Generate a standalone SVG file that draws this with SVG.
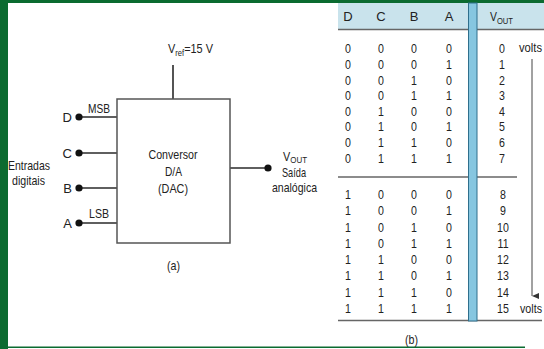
<svg xmlns="http://www.w3.org/2000/svg" width="544" height="349" viewBox="0 0 544 349">
  <style>
    text { font-family: "Liberation Sans", Arial, sans-serif; fill: #222; }
    .t13 { font-size: 13px; }
    .t12 { font-size: 12.5px; }
    .mid { text-anchor: middle; }
    .end { text-anchor: end; }
    .wire { stroke: #2a2a2a; stroke-width: 1.6; fill: none; }
    .box { stroke: #555; stroke-width: 1.5; fill: #fff; }
    .dot { fill: #111; }
    .rule { stroke: #666; stroke-width: 1.4; }
  </style>
  <defs>
    <marker id="arrow" markerWidth="6" markerHeight="8" refX="3" refY="7" orient="auto" markerUnits="userSpaceOnUse">
      <path d="M0,0 L6,0 L3,7 Z" fill="#333"/>
    </marker>
  </defs>

  <!-- page frame -->
  <rect x="0" y="0" width="544" height="349" fill="#fff"/>
  <rect x="0" y="0" width="544" height="3" fill="#0b6b30"/>
  <rect x="0" y="0" width="8" height="349" fill="#0b6b30"/>
  <rect x="0" y="346.5" width="525" height="1.5" fill="#0b6b30"/>

  <!-- (a) DAC block diagram -->
  <g id="connectors">
    <line class="wire" x1="173" y1="65" x2="173" y2="99"/>
    <line class="wire" x1="79" y1="117" x2="117" y2="117"/>
    <line class="wire" x1="79" y1="153" x2="117" y2="153"/>
    <line class="wire" x1="79" y1="188" x2="117" y2="188"/>
    <line class="wire" x1="79" y1="223" x2="117" y2="223"/>
    <line class="wire" x1="230" y1="168" x2="268" y2="168"/>
  </g>

  <g id="dac">
    <rect class="box" x="117" y="99" width="113" height="144"/>
    <text class="t13" x="148.5" y="159" textLength="49" lengthAdjust="spacingAndGlyphs">Conversor</text>
    <text class="t13" x="165" y="176" textLength="17" lengthAdjust="spacingAndGlyphs">D/A</text>
    <text class="t13" x="158" y="193" textLength="30" lengthAdjust="spacingAndGlyphs">(DAC)</text>
  </g>

  <g id="vref">
    <text class="t13" x="168" y="53" textLength="45" lengthAdjust="spacingAndGlyphs">V<tspan font-size="9" dy="2.5">ref</tspan><tspan dy="-2.5">=15 V</tspan></text>
  </g>

  <g id="input-d">
    <circle class="dot" cx="79" cy="117" r="3.6"/>
    <text class="t13 end" x="72" y="122">D</text>
    <text class="t13" x="88" y="113" textLength="22" lengthAdjust="spacingAndGlyphs">MSB</text>
  </g>
  <g id="input-c">
    <circle class="dot" cx="79" cy="153" r="3.6"/>
    <text class="t13 end" x="72" y="158">C</text>
  </g>
  <g id="input-b">
    <circle class="dot" cx="79" cy="188" r="3.6"/>
    <text class="t13 end" x="72" y="193">B</text>
  </g>
  <g id="input-a">
    <circle class="dot" cx="79" cy="223" r="3.6"/>
    <text class="t13 end" x="72" y="228">A</text>
    <text class="t13" x="89" y="218" textLength="20" lengthAdjust="spacingAndGlyphs">LSB</text>
  </g>

  <g id="inputs-label">
    <text class="t13" x="8" y="170" textLength="42" lengthAdjust="spacingAndGlyphs">Entradas</text>
    <text class="t13" x="12" y="185" textLength="33" lengthAdjust="spacingAndGlyphs">digitais</text>
  </g>

  <g id="output">
    <circle class="dot" cx="268" cy="168" r="3.6"/>
    <text class="t13" x="283" y="160.5" textLength="24" lengthAdjust="spacingAndGlyphs">V<tspan font-size="9.5" dy="2.5">OUT</tspan></text>
    <text class="t13" x="282" y="176.5" textLength="24" lengthAdjust="spacingAndGlyphs">Saída</text>
    <text class="t13" x="272" y="192" textLength="45" lengthAdjust="spacingAndGlyphs">analógica</text>
  </g>

  <text class="t13" x="167" y="270" textLength="13" lengthAdjust="spacingAndGlyphs">(a)</text>

  <!-- (b) conversion table -->
  <g id="table">
    <rect x="338" y="3" width="206" height="26.5" fill="#c9e3ec"/>
    <line class="rule" x1="338" y1="29.5" x2="544" y2="29.5"/>
    <line class="rule" x1="338" y1="177" x2="517" y2="177"/>
    <line class="rule" x1="338" y1="320.5" x2="542" y2="320.5"/>
    <rect x="468.5" y="3" width="8.5" height="318" fill="#86c6e0" stroke="#2f6f8c" stroke-width="1"/>

    <g class="t13">
      <text class="mid" x="348" y="21">D</text>
      <text class="mid" x="381" y="21">C</text>
      <text class="mid" x="414" y="21">B</text>
      <text class="mid" x="449" y="21">A</text>
      <text x="490" y="21" textLength="23" lengthAdjust="spacingAndGlyphs">V<tspan font-size="9.5" dy="2.5">OUT</tspan></text>
    </g>

    <!-- digit columns, narrowed horizontally: x values are pre-divided by 0.85 -->
    <g class="t12 mid" transform="scale(0.85 1)">
      <!-- rows 0-7 -->
      <text y="53.5"><tspan x="409.4">0</tspan><tspan x="448.2">0</tspan><tspan x="487.1">0</tspan><tspan x="528.2">0</tspan><tspan x="590.6">0</tspan></text>
      <text y="69.1"><tspan x="409.4">0</tspan><tspan x="448.2">0</tspan><tspan x="487.1">0</tspan><tspan x="528.2">1</tspan><tspan x="590.6">1</tspan></text>
      <text y="84.7"><tspan x="409.4">0</tspan><tspan x="448.2">0</tspan><tspan x="487.1">1</tspan><tspan x="528.2">0</tspan><tspan x="590.6">2</tspan></text>
      <text y="100.3"><tspan x="409.4">0</tspan><tspan x="448.2">0</tspan><tspan x="487.1">1</tspan><tspan x="528.2">1</tspan><tspan x="590.6">3</tspan></text>
      <text y="115.9"><tspan x="409.4">0</tspan><tspan x="448.2">1</tspan><tspan x="487.1">0</tspan><tspan x="528.2">0</tspan><tspan x="590.6">4</tspan></text>
      <text y="131.5"><tspan x="409.4">0</tspan><tspan x="448.2">1</tspan><tspan x="487.1">0</tspan><tspan x="528.2">1</tspan><tspan x="590.6">5</tspan></text>
      <text y="147.1"><tspan x="409.4">0</tspan><tspan x="448.2">1</tspan><tspan x="487.1">1</tspan><tspan x="528.2">0</tspan><tspan x="590.6">6</tspan></text>
      <text y="162.7"><tspan x="409.4">0</tspan><tspan x="448.2">1</tspan><tspan x="487.1">1</tspan><tspan x="528.2">1</tspan><tspan x="590.6">7</tspan></text>
      <!-- rows 8-15 -->
      <text y="199"><tspan x="409.4">1</tspan><tspan x="448.2">0</tspan><tspan x="487.1">0</tspan><tspan x="528.2">0</tspan><tspan x="591.8">8</tspan></text>
      <text y="215.3"><tspan x="409.4">1</tspan><tspan x="448.2">0</tspan><tspan x="487.1">0</tspan><tspan x="528.2">1</tspan><tspan x="591.8">9</tspan></text>
      <text y="231.6"><tspan x="409.4">1</tspan><tspan x="448.2">0</tspan><tspan x="487.1">1</tspan><tspan x="528.2">0</tspan><tspan x="591.8">10</tspan></text>
      <text y="247.9"><tspan x="409.4">1</tspan><tspan x="448.2">0</tspan><tspan x="487.1">1</tspan><tspan x="528.2">1</tspan><tspan x="591.8">11</tspan></text>
      <text y="264.2"><tspan x="409.4">1</tspan><tspan x="448.2">1</tspan><tspan x="487.1">0</tspan><tspan x="528.2">0</tspan><tspan x="591.8">12</tspan></text>
      <text y="280.5"><tspan x="409.4">1</tspan><tspan x="448.2">1</tspan><tspan x="487.1">0</tspan><tspan x="528.2">1</tspan><tspan x="591.8">13</tspan></text>
      <text y="296.8"><tspan x="409.4">1</tspan><tspan x="448.2">1</tspan><tspan x="487.1">1</tspan><tspan x="528.2">0</tspan><tspan x="591.8">14</tspan></text>
      <text y="313.1"><tspan x="409.4">1</tspan><tspan x="448.2">1</tspan><tspan x="487.1">1</tspan><tspan x="528.2">1</tspan><tspan x="591.8">15</tspan></text>
    </g>

    <text class="t12" x="519" y="52" textLength="23" lengthAdjust="spacingAndGlyphs">volts</text>
    <line x1="532" y1="59" x2="532" y2="296" stroke="#444" stroke-width="1" marker-end="url(#arrow)"/>
    <text class="t12" x="520" y="313" textLength="22" lengthAdjust="spacingAndGlyphs">volts</text>
  </g>

  <text class="t13" x="405" y="344" textLength="13" lengthAdjust="spacingAndGlyphs">(b)</text>
</svg>
